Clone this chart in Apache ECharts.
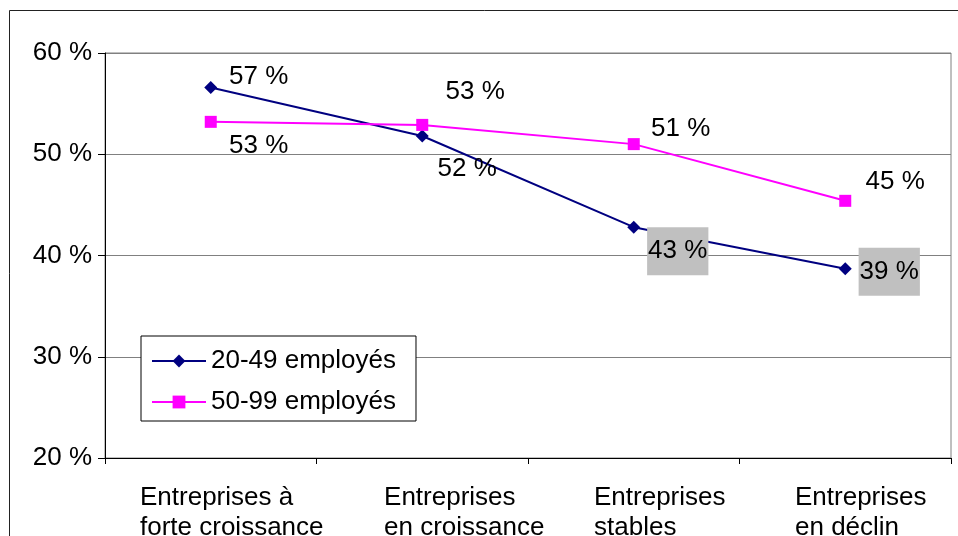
<!DOCTYPE html>
<html>
<head>
<meta charset="utf-8">
<script src="https://cdn.jsdelivr.net/npm/echarts@6/dist/echarts.min.js"></script>
<style>
html,body{margin:0;padding:0;background:#fff;}
#chart{width:958px;height:536px;}
</style>
</head>
<body>
<div id="chart"></div>
<script>
const categories = ['Entreprises à\nforte croissance', 'Entreprises\nen croissance', 'Entreprises\nstables', 'Entreprises\nen déclin'];
const seriesNames = ['20-49 employés', '50-99 employés'];
const values2049 = [56.6, 51.8, 42.8, 38.7];
const values5099 = [53.2, 52.9, 51.0, 45.4];
const yTicks = { min: 20, max: 60, interval: 10 };

const FONT = 'Liberation Sans, Arial, sans-serif';
const FS = 26;

// label placement (offsets from the point) — styling only
const offsets2049 = [[48, -11], [45, 33], [44, 24], [44, 3]];
const grayBox2049 = [false, false, true, true];
const offsets5099 = [[48, 24], [53, -33], [47, -15], [50, -19]];

function mkData(vals, offs, gray) {
  return vals.map((v, i) => {
    const lab = { show: true, position: 'inside', offset: offs[i], fontSize: FS, fontFamily: FONT, color: '#000', lineHeight: 26,
      formatter: p => Math.round(p.value) + ' %' };
    if (gray && gray[i]) { lab.backgroundColor = '#C0C0C0'; lab.padding = [11, 1, 11, 1]; }
    return { value: v, label: lab };
  });
}

const padLeft = [42, 84, 52, 31];
const rich = {};
padLeft.forEach((p, i) => { rich['c' + i] = { align: 'left', padding: [0, 0, 0, p], fontSize: FS, fontFamily: FONT, color: '#000', lineHeight: 30 }; });

const chart = echarts.init(document.getElementById('chart'));
chart.setOption({
  animation: false,
  backgroundColor: '#fff',
  textStyle: { fontFamily: FONT },
  graphic: [{ type: 'rect', shape: { x: 9.5, y: 10.5, width: 1200, height: 1000 }, style: { fill: 'none', stroke: '#222', lineWidth: 1 }, z: 100 }],
  grid: { left: 105, right: 7, top: 53, bottom: 78, containLabel: false, outerBoundsMode: 'none', show: true, borderColor: '#808080', borderWidth: 1, backgroundColor: '#fff' },
  legend: {
    orient: 'vertical', left: 141, top: 336,
    backgroundColor: '#fff', borderColor: '#000', borderWidth: 1,
    padding: [11, 20, 5, 10], itemWidth: 54, itemHeight: 16, itemGap: 13,
    textStyle: { fontSize: FS, fontFamily: FONT, color: '#000', lineHeight: 28 },
    data: seriesNames
  },
  xAxis: {
    type: 'category', data: categories, boundaryGap: true,
    axisLine: { lineStyle: { color: '#000', width: 1 } },
    axisTick: { show: true, interval: 0, length: 6, lineStyle: { color: '#000' } },
    axisLabel: { interval: 0, margin: 25, formatter: (v, i) => v.split('\n').map(l => '{c' + i + '|' + l + '}').join('\n'), rich: rich }
  },
  yAxis: {
    type: 'value', min: yTicks.min, max: yTicks.max, interval: yTicks.interval,
    axisLine: { show: true, lineStyle: { color: '#000', width: 1 } },
    axisTick: { show: true, length: 7, lineStyle: { color: '#000' } },
    axisLabel: { formatter: '{value} %', fontSize: FS, fontFamily: FONT, color: '#000', margin: 13 },
    splitLine: { lineStyle: { color: '#808080', width: 1 } }
  },
  series: [
    { name: seriesNames[0], type: 'line', data: mkData(values2049, offsets2049, grayBox2049),
      symbol: 'diamond', symbolSize: 13, lineStyle: { color: '#000080', width: 2 }, itemStyle: { color: '#000080' } },
    { name: seriesNames[1], type: 'line', data: mkData(values5099, offsets5099, null),
      symbol: 'rect', symbolSize: 12, lineStyle: { color: '#FF00FF', width: 2 }, itemStyle: { color: '#FF00FF' } }
  ]
});
</script>
</body>
</html>
